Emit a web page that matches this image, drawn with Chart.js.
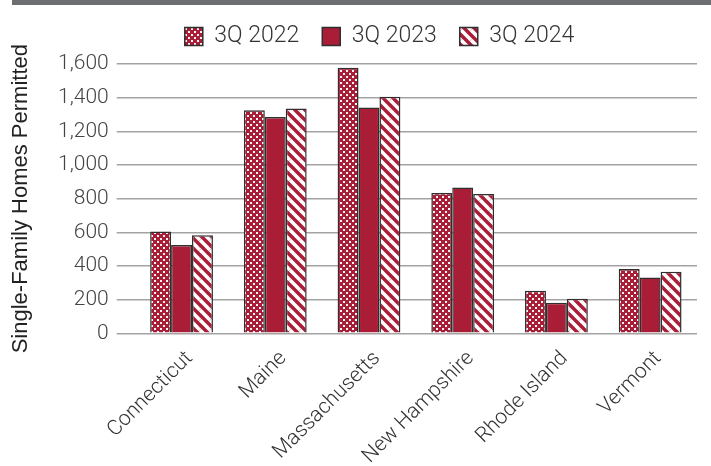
<!DOCTYPE html>
<html>
<head>
<meta charset="utf-8">
<script src="https://cdn.jsdelivr.net/npm/chart.js@4/dist/chart.umd.min.js"></script>
<style>
  html, body { margin: 0; padding: 0; background: #fff; }
  #wrap { width: 711px; height: 466px; position: relative; }
</style>
</head>
<body>
<div id="wrap"><canvas id="permitsChart"></canvas></div>
<script>
const states = ['Connecticut', 'Maine', 'Massachusetts', 'New Hampshire', 'Rhode Island', 'Vermont'];
const q2022 = [605, 1325, 1578, 833, 253, 382];
const q2023 = [524, 1285, 1342, 866, 182, 332];
const q2024 = [583, 1335, 1406, 828, 206, 365];
const seriesLabels = ['3Q 2022', '3Q 2023', '3Q 2024'];

const red = '#A91D37';
const edge = '#2f2f2f';
const gridColor = '#a3a3a3';

// dotted fill for 2022 (staggered dots)
function dotPattern() {
    const c = document.createElement('canvas');
    c.width = 6; c.height = 6;
    const g = c.getContext('2d');
    g.fillStyle = red;
    g.fillRect(0, 0, 6, 6);
    g.fillStyle = 'rgba(255,255,255,0.95)';
    g.fillRect(1, 1, 2, 2);
    g.fillRect(4, 4, 2, 2);
    return g.createPattern(c, 'repeat');
}

// diagonal white stripes for 2024
function stripePattern() {
    const c = document.createElement('canvas');
    c.width = 10; c.height = 10;
    const g = c.getContext('2d');
    g.fillStyle = red;
    g.fillRect(0, 0, 10, 10);
    g.strokeStyle = '#fff';
    g.lineWidth = 3.6;
    [[-10, -10], [0, 0], [10, -10], [-10, 10], [10, 10], [0, -10], [-10, 0], [0, 10], [10, 0]].forEach(([dx, dy]) => {
        g.beginPath();
        g.moveTo(dx, dy);
        g.lineTo(dx + 10, dy + 10);
        g.stroke();
    });
    return g.createPattern(c, 'repeat');
}

const topBand = {
    id: 'topBand',
    beforeDraw(chart) {
        const ctx = chart.ctx;
        ctx.save();
        ctx.fillStyle = '#6d6e71';
        ctx.fillRect(12, 0, chart.width - 12, 5);
        ctx.restore();
    }
};

// more room under the legend, and legend nudged right like the original
const legendTweak = {
    id: 'legendTweak',
    beforeLayout(chart) {
        const lg = chart.legend;
        if (lg && !lg._patched) {
            const fit = lg.fit;
            lg.fit = function () { fit.call(this); this.height += 6; };
            const draw = lg.draw;
            lg.draw = function () {
                this.ctx.save();
                this.ctx.translate(31, 0);
                draw.call(this);
                this.ctx.restore();
            };
            lg._patched = true;
        }
    }
};

const thin = { family: 'Roboto', weight: '300', size: 21 };

new Chart(document.getElementById('permitsChart'), {
    type: 'bar',
    data: {
        labels: states,
        datasets: [
            { label: seriesLabels[0], data: q2022, backgroundColor: dotPattern(), borderColor: edge, borderWidth: 1.5 },
            { label: seriesLabels[1], data: q2023, backgroundColor: red, borderColor: edge, borderWidth: 1.5 },
            { label: seriesLabels[2], data: q2024, backgroundColor: stripePattern(), borderColor: edge, borderWidth: 1.5 }
        ]
    },
    options: {
        responsive: true,
        maintainAspectRatio: false,
        animation: false,
        layout: { padding: { top: 2, right: 14, left: 0, bottom: 0 } },
        datasets: {
            bar: { categoryPercentage: 0.67, barPercentage: 1.0 }
        },
        plugins: {
            tooltip: { enabled: false },
            legend: {
                position: 'top',
                labels: {
                    boxWidth: 18,
                    boxHeight: 18,
                    padding: 23,
                    color: '#333',
                    font: { family: 'Roboto', weight: '300', size: 23 }
                }
            }
        },
        scales: {
            x: {
                grid: { display: false, drawTicks: false },
                border: { display: false },
                ticks: {
                    color: '#333',
                    font: thin,
                    minRotation: 45,
                    maxRotation: 45,
                    padding: 13,
                    labelOffset: 8,
                    autoSkip: false
                },
                afterFit(scale) { scale.height = 132.7; }
            },
            y: {
                min: 0,
                max: 1600,
                grid: { color: gridColor, lineWidth: 1.5, tickLength: 18, drawTicks: true },
                border: { display: false },
                ticks: {
                    stepSize: 200,
                    color: '#444',
                    font: thin,
                    padding: 8,
                    callback: (v) => v.toLocaleString('en-US')
                },
                title: {
                    display: true,
                    text: 'Single-Family Homes Permitted',
                    color: '#222',
                    font: { family: 'Liberation Sans', size: 22 },
                    padding: { top: 8, bottom: 4 }
                },
                afterFit(scale) { scale.width = 134.7; }
            }
        }
    },
    plugins: [topBand, legendTweak]
});
</script>
</body>
</html>
